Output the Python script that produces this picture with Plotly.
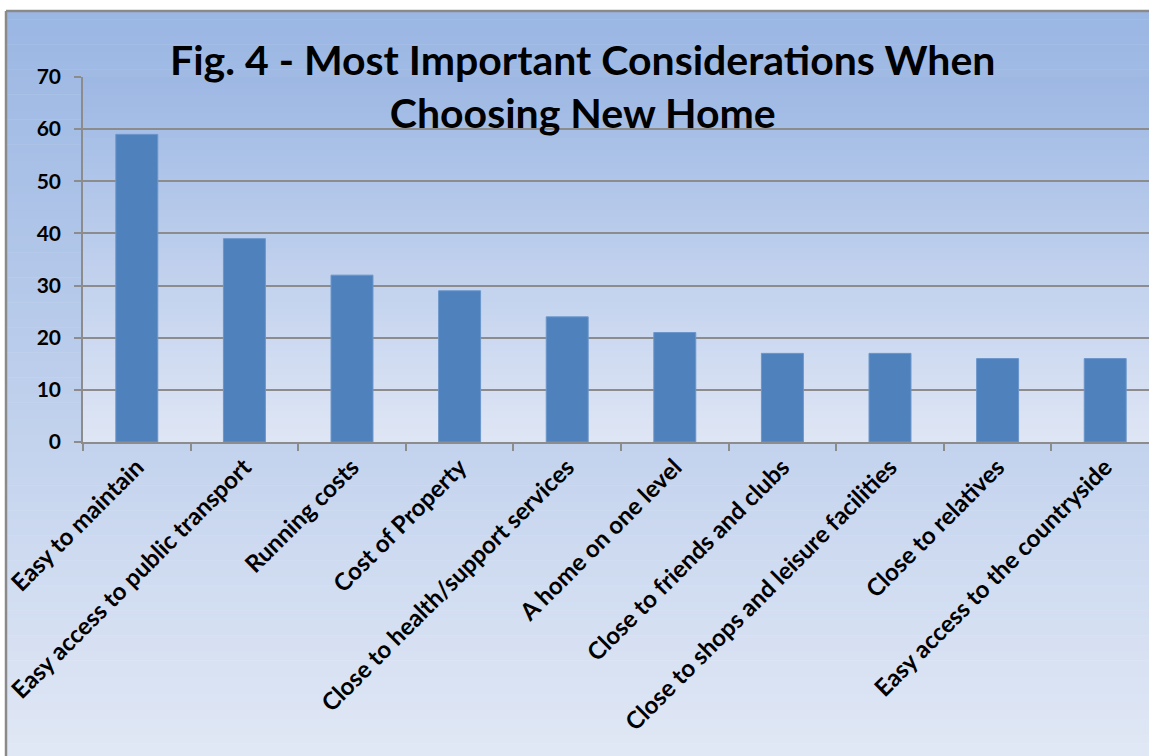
import plotly.graph_objects as go

categories = [
    "Easy to maintain",
    "Easy access to public transport",
    "Running costs",
    "Cost of Property",
    "Close to health/support services",
    "A home on one level",
    "Close to friends and clubs",
    "Close to shops and leisure facilities",
    "Close to relatives",
    "Easy access to the countryside",
]
values = [59, 39, 32, 29, 24, 21, 17, 17, 16, 16]
y_ticks = [0, 10, 20, 30, 40, 50, 60, 70]

W, H = 1149, 756
L, T, B_px = 83, 77, 442
plot_h = B_px - T
plot_w = W - L


def px_to_py(py):
    return (B_px - py) / plot_h


def px_to_px(px):
    return (px - L) / plot_w


def lerp(c1, c2, t):
    return "rgb(%d,%d,%d)" % tuple(round(a + (b - a) * t) for a, b in zip(c1, c2))


shapes = []
# outer gradient
top_c = (154, 182, 227)
bot_c = (225, 232, 245)
n = 90
y0p, y1p = 11, 760
for i in range(n):
    a = y0p + (y1p - y0p) * i / n
    b = y0p + (y1p - y0p) * (i + 1) / n
    shapes.append(dict(type="rect", xref="paper", yref="paper",
                       x0=px_to_px(6), x1=px_to_px(1160),
                       y0=px_to_py(b + 0.5), y1=px_to_py(a),
                       fillcolor=lerp(top_c, bot_c, (i + 0.5) / n),
                       line=dict(width=0), layer="below"))
# inner plot area gradient
itop = (157, 184, 228)
ibot = (223, 230, 245)
m = 60
for i in range(m):
    a = T + plot_h * i / m
    b = T + plot_h * (i + 1) / m
    shapes.append(dict(type="rect", xref="paper", yref="paper",
                       x0=0, x1=1.02,
                       y0=px_to_py(b + 0.5), y1=px_to_py(a),
                       fillcolor=lerp(itop, ibot, (i + 0.5) / m),
                       line=dict(width=0), layer="below"))
# frame border
shapes.append(dict(type="line", xref="paper", yref="paper",
                   x0=px_to_px(6), x1=px_to_px(6), y0=px_to_py(11), y1=px_to_py(770),
                   line=dict(color="#8a8a8a", width=2.5), layer="above"))
shapes.append(dict(type="line", xref="paper", yref="paper",
                   x0=px_to_px(6), x1=px_to_px(1160), y0=px_to_py(11), y1=px_to_py(11),
                   line=dict(color="#8a8a8a", width=2.5), layer="above"))

fig = go.Figure()
fig.add_trace(go.Bar(
    x=categories, y=values, width=0.39,
    marker=dict(color="#4F81BD", line=dict(color="#6B96CB", width=1)),
))

font_fam = "Lato, 'Open Sans', sans-serif"
fig.update_layout(
    width=W, height=H,
    margin=dict(l=L, r=0, t=T, b=H - B_px),
    paper_bgcolor="white",
    plot_bgcolor="rgba(0,0,0,0)",
    showlegend=False,
    shapes=shapes,
    font=dict(family=font_fam, color="black"),
    annotations=[dict(
        text="Fig. 4 - Most Important Considerations When<br>Choosing New Home",
        xref="paper", yref="paper", x=px_to_px(582), y=px_to_py(86),
        xanchor="center", yanchor="middle", showarrow=False,
        font=dict(size=41, family=font_fam, color="black", weight="bold"),
    )],
)
fig.update_xaxes(
    range=[-0.5, -0.5 + plot_w / 107.6],
    tickangle=-45,
    tickfont=dict(size=24, family=font_fam, color="black", weight="bold"),
    ticks="outside", ticklen=7, tickcolor="#8c8c8c", tickwidth=1.5,
    tickson="boundaries",
    showline=True, linecolor="#8c8c8c", linewidth=1.5,
    showgrid=False,
)
fig.update_yaxes(
    range=[0, 70], tickvals=y_ticks,
    tickfont=dict(size=21, family=font_fam, color="black", weight="bold"),
    ticks="outside", ticklen=7, tickcolor="#8c8c8c", tickwidth=1.5,
    ticklabelstandoff=9,
    showline=True, linecolor="#8c8c8c", linewidth=1.5,
    showgrid=True, gridcolor="#8c8c8c", gridwidth=1.5,
    zeroline=False,
)

fig.write_html("out.html")
